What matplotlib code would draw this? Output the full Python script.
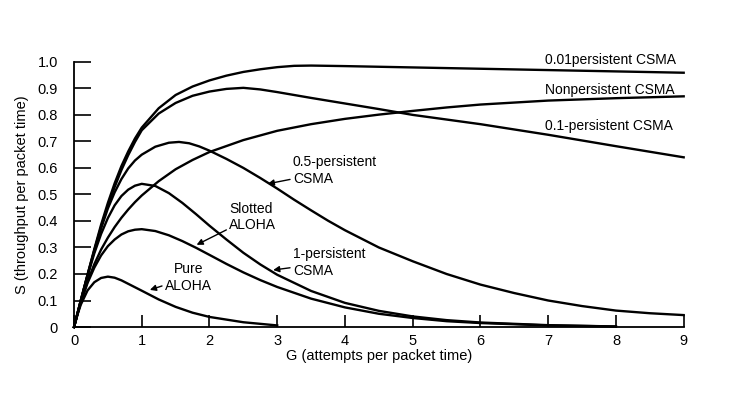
import matplotlib
matplotlib.use('Agg')
import matplotlib.pyplot as plt

plt.rcParams['font.family'] = ['Liberation Sans', 'DejaVu Sans']

# values
g_pure = [0, 0.05, 0.1, 0.2, 0.3, 0.4, 0.5, 0.6, 0.7, 0.8, 1.0, 1.25, 1.5, 1.75, 2, 2.5, 3]
s_pure = [0, 0.046, 0.084, 0.138, 0.169, 0.185, 0.19, 0.186, 0.176, 0.163, 0.137, 0.104, 0.076, 0.054, 0.038, 0.018, 0.006]

g_slot = [0, 0.1, 0.2, 0.3, 0.4, 0.5, 0.6, 0.7, 0.8, 0.9, 1.0, 1.2, 1.4, 1.6, 1.8, 2,
          2.25, 2.5, 2.75, 3, 3.5, 4, 4.5, 5, 5.5, 6, 7, 8]
s_slot = [0, 0.092, 0.166, 0.224, 0.27, 0.305, 0.33, 0.349, 0.361, 0.367, 0.369, 0.362, 0.346, 0.324, 0.299, 0.272,
          0.238, 0.206, 0.177, 0.151, 0.107, 0.074, 0.05, 0.034, 0.022, 0.015, 0.006, 0.002]

g_p1 = [0, 0.1, 0.2, 0.3, 0.4, 0.5, 0.6, 0.7, 0.8, 0.9, 1.0, 1.2, 1.4, 1.6, 1.8, 2,
        2.25, 2.5, 2.75, 3, 3.5, 4, 4.5, 5, 5.5, 6, 7, 8]
s_p1 = [0, 0.099, 0.193, 0.278, 0.351, 0.411, 0.459, 0.494, 0.518, 0.533, 0.54, 0.532, 0.505, 0.468, 0.426, 0.382,
        0.33, 0.28, 0.236, 0.197, 0.136, 0.091, 0.061, 0.04, 0.026, 0.017, 0.007, 0.002]

g_p05 = [0, 0.1, 0.2, 0.3, 0.4, 0.5, 0.6, 0.7, 0.8, 0.9, 1.0, 1.2, 1.4, 1.55, 1.7, 1.85, 2,
         2.25, 2.5, 2.75, 3, 3.25, 3.5, 3.75, 4, 4.5, 5, 5.5, 6, 6.5, 7, 7.5, 8, 8.5, 9]
s_p05 = [0, 0.1, 0.196, 0.287, 0.372, 0.447, 0.508, 0.558, 0.598, 0.628, 0.65, 0.68, 0.695, 0.698, 0.693, 0.681, 0.665,
         0.634, 0.6, 0.562, 0.522, 0.48, 0.44, 0.401, 0.365, 0.3, 0.248, 0.2, 0.16, 0.128, 0.1, 0.079, 0.062, 0.052, 0.045]

g_nonp = [0, 0.1, 0.2, 0.3, 0.4, 0.5, 0.6, 0.7, 0.8, 0.9, 1.0, 1.25, 1.5, 1.75, 2,
          2.5, 3, 3.5, 4, 4.5, 5, 5.5, 6, 7, 8, 9]
s_nonp = [0, 0.095, 0.172, 0.237, 0.292, 0.337, 0.377, 0.412, 0.443, 0.471, 0.496, 0.55, 0.595, 0.63, 0.66,
          0.705, 0.74, 0.765, 0.785, 0.801, 0.815, 0.828, 0.839, 0.854, 0.863, 0.87]

g_p01 = [0, 0.1, 0.2, 0.3, 0.4, 0.5, 0.6, 0.7, 0.8, 0.9, 1.0, 1.25, 1.5, 1.75, 2,
         2.25, 2.5, 2.75, 3, 3.5, 4, 4.5, 5, 6, 7, 8, 9]
s_p01 = [0, 0.1, 0.196, 0.29, 0.378, 0.458, 0.528, 0.592, 0.648, 0.698, 0.742, 0.805, 0.845, 0.872, 0.888,
         0.898, 0.902, 0.896, 0.886, 0.864, 0.843, 0.822, 0.8, 0.765, 0.725, 0.682, 0.64]

g_p001 = [0, 0.1, 0.2, 0.3, 0.4, 0.5, 0.6, 0.7, 0.8, 0.9, 1.0, 1.25, 1.5, 1.75, 2,
          2.25, 2.5, 2.75, 3, 3.25, 3.5, 4, 5, 6, 7, 8, 9]
s_p001 = [0, 0.1, 0.198, 0.294, 0.386, 0.468, 0.542, 0.607, 0.662, 0.711, 0.752, 0.825, 0.875, 0.907, 0.93,
          0.948, 0.962, 0.972, 0.98, 0.985, 0.986, 0.984, 0.979, 0.974, 0.969, 0.964, 0.959]

x_ticks = list(range(10))
y_ticks = [0, 0.1, 0.2, 0.3, 0.4, 0.5, 0.6, 0.7, 0.8, 0.9, 1.0]
y_labels = ['0', '0.1', '0.2', '0.3', '0.4', '0.5', '0.6', '0.7', '0.8', '0.9', '1.0']

fig = plt.figure(figsize=(7.49, 3.94), dpi=100)
ax = fig.add_axes([0.0988, 0.170, 0.814, 0.673])

for g, s in [(g_pure, s_pure), (g_slot, s_slot), (g_p1, s_p1), (g_p05, s_p05),
             (g_nonp, s_nonp), (g_p01, s_p01), (g_p001, s_p001)]:
    ax.plot(g, s, color='black', lw=1.7, clip_on=False, solid_joinstyle='round')

ax.set_xlim(0, 9)
ax.set_ylim(0, 1.0)
ax.spines['top'].set_visible(False)
ax.spines['right'].set_visible(False)
ax.spines['left'].set_linewidth(1.3)
ax.spines['bottom'].set_linewidth(1.3)
ax.set_xticks(x_ticks)
ax.set_yticks(y_ticks)
ax.set_yticklabels(y_labels)
ax.tick_params(axis='y', direction='in', length=12, width=1.2, labelsize=10.5, pad=11.5)
ax.tick_params(axis='x', direction='in', length=9, width=1.2, labelsize=10.5, pad=5)
ax.set_xlabel('G (attempts per packet time)', fontsize=10.5, labelpad=1)
ax.set_ylabel('S (throughput per packet time)', fontsize=10.5, labelpad=6)

fs = 10
ax.text(6.96, 1.007, '0.01persistent CSMA', fontsize=fs, va='center', ha='left')
ax.text(6.96, 0.895, 'Nonpersistent CSMA', fontsize=fs, va='center', ha='left')
ax.text(6.96, 0.757, '0.1-persistent CSMA', fontsize=fs, va='center', ha='left')

arrow = dict(arrowstyle='-|>', color='black', lw=1, mutation_scale=9, shrinkA=0, shrinkB=0)
ax.annotate('0.5-persistent\nCSMA', xy=(2.86, 0.54), xytext=(3.23, 0.59), fontsize=fs,
            va='center', ha='left', arrowprops=arrow)
ax.annotate('Slotted\nALOHA', xy=(1.81, 0.31), xytext=(2.29, 0.416), fontsize=fs,
            va='center', ha='left', arrowprops=arrow)
ax.annotate('1-persistent\nCSMA', xy=(2.94, 0.215), xytext=(3.23, 0.243), fontsize=fs,
            va='center', ha='left', arrowprops=arrow)
ax.annotate('Pure\nALOHA', xy=(1.12, 0.14), xytext=(1.34, 0.187), fontsize=fs,
            va='center', ha='left', multialignment='center', arrowprops=arrow)

fig.savefig('out.png', dpi=100)
